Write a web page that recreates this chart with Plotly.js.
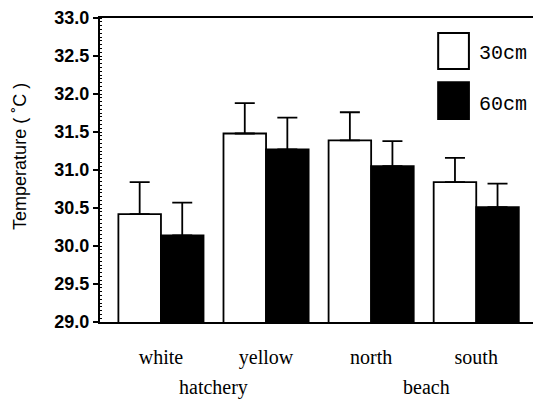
<!DOCTYPE html>
<html><head><meta charset="utf-8">
<script src="https://cdn.plot.ly/plotly-3.0.1.min.js"></script>
<style>html,body{margin:0;padding:0;background:#fff;}#chart{width:535px;height:403px;}</style>
</head><body><div id="chart"></div>
<script>
const sites = ["white", "yellow", "north", "south"];
const groups = ["hatchery", "beach"];
const depthNames = ["30cm", "60cm"];
const temp30 = [30.42, 31.48, 31.39, 30.84];
const err30 = [0.42, 0.40, 0.37, 0.32];
const temp60 = [30.14, 31.27, 31.05, 30.51];
const err60 = [0.43, 0.42, 0.33, 0.31];
const yTickVals = [29.0, 29.5, 30.0, 30.5, 31.0, 31.5, 32.0, 32.5, 33.0];
const yTickText = ["29.0", "29.5", "30.0", "30.5", "31.0", "31.5", "32.0", "32.5", "33.0"];

const errStyle = {type: "data", symmetric: false, color: "#000", thickness: 1.8, width: 10};
const traces = [
  {type: "bar", name: depthNames[0], x: sites, y: temp30,
   marker: {color: "#fff", line: {color: "#000", width: 1.8}},
   error_y: Object.assign({array: err30, arrayminus: err30.map(() => 0)}, errStyle)},
  {type: "bar", name: depthNames[1], x: sites, y: temp60,
   marker: {color: "#000", line: {color: "#000", width: 1.8}},
   error_y: Object.assign({array: err60, arrayminus: err60.map(() => 0)}, errStyle)}
];

const serif = "Liberation Serif, Times New Roman, serif";
const mono = "Liberation Mono, DejaVu Sans Mono, monospace";
const layout = {
  width: 535, height: 403,
  margin: {l: 100, r: 2, t: 18, b: 81},
  paper_bgcolor: "#fff", plot_bgcolor: "#fff",
  barmode: "group", bargap: 0.19, bargroupgap: 0,
  showlegend: false,
  xaxis: {type: "category", range: [-0.58, 3.54], showline: true, mirror: true,
          linecolor: "#000", linewidth: 2, ticks: "", showgrid: false, zeroline: false,
          tickfont: {family: serif, size: 20, color: "#000"},
          ticklabelstandoff: 16},
  yaxis: {range: [29, 33], showline: true, mirror: false, linecolor: "#000", linewidth: 2,
          tickvals: yTickVals, ticktext: yTickText, ticks: "outside", ticklen: 5, tickwidth: 1.5,
          tickcolor: "#000", showgrid: false, zeroline: false,
          tickfont: {family: "Liberation Sans, Arial, sans-serif", size: 18, color: "#000", weight: "bold"},
          minor: {dtick: 0.05, ticks: "inside", ticklen: 2, tickwidth: 1, tickcolor: "#000", showgrid: false}},
  annotations: [
    {text: groups[0], x: 0.5, xref: "x", xanchor: "center", y: -0.214, yref: "paper", yanchor: "middle",
     showarrow: false, font: {family: serif, size: 20, color: "#000"}},
    {text: groups[1], x: 2.53, xref: "x", xanchor: "center", y: -0.214, yref: "paper", yanchor: "middle",
     showarrow: false, font: {family: serif, size: 20, color: "#000"}},
    {text: "Temperature ( ˚C )", textangle: -90, x: -0.185, xref: "paper", xanchor: "center",
     y: 0.546, yref: "paper", yanchor: "middle", showarrow: false,
     font: {family: "Liberation Sans Narrow, Liberation Sans, Arial, sans-serif", size: 18, color: "#000"}},
    {text: depthNames[0], x: 0.871, xref: "paper", xanchor: "left", y: 0.882, yref: "paper", yanchor: "middle",
     showarrow: false, font: {family: mono, size: 20, color: "#000"}},
    {text: depthNames[1], x: 0.871, xref: "paper", xanchor: "left", y: 0.717, yref: "paper", yanchor: "middle",
     showarrow: false, font: {family: mono, size: 20, color: "#000"}}
  ],
  shapes: [
    {type: "rect", xref: "paper", yref: "paper", x0: 0.781, x1: 0.852, y0: 0.832, y1: 0.951,
     fillcolor: "#fff", line: {color: "#000", width: 2}},
    {type: "rect", xref: "paper", yref: "paper", x0: 0.781, x1: 0.852, y0: 0.668, y1: 0.789,
     fillcolor: "#000", line: {color: "#000", width: 2}}
  ]
};
Plotly.newPlot("chart", traces, layout, {displayModeBar: false, staticPlot: true});
</script></body></html>
